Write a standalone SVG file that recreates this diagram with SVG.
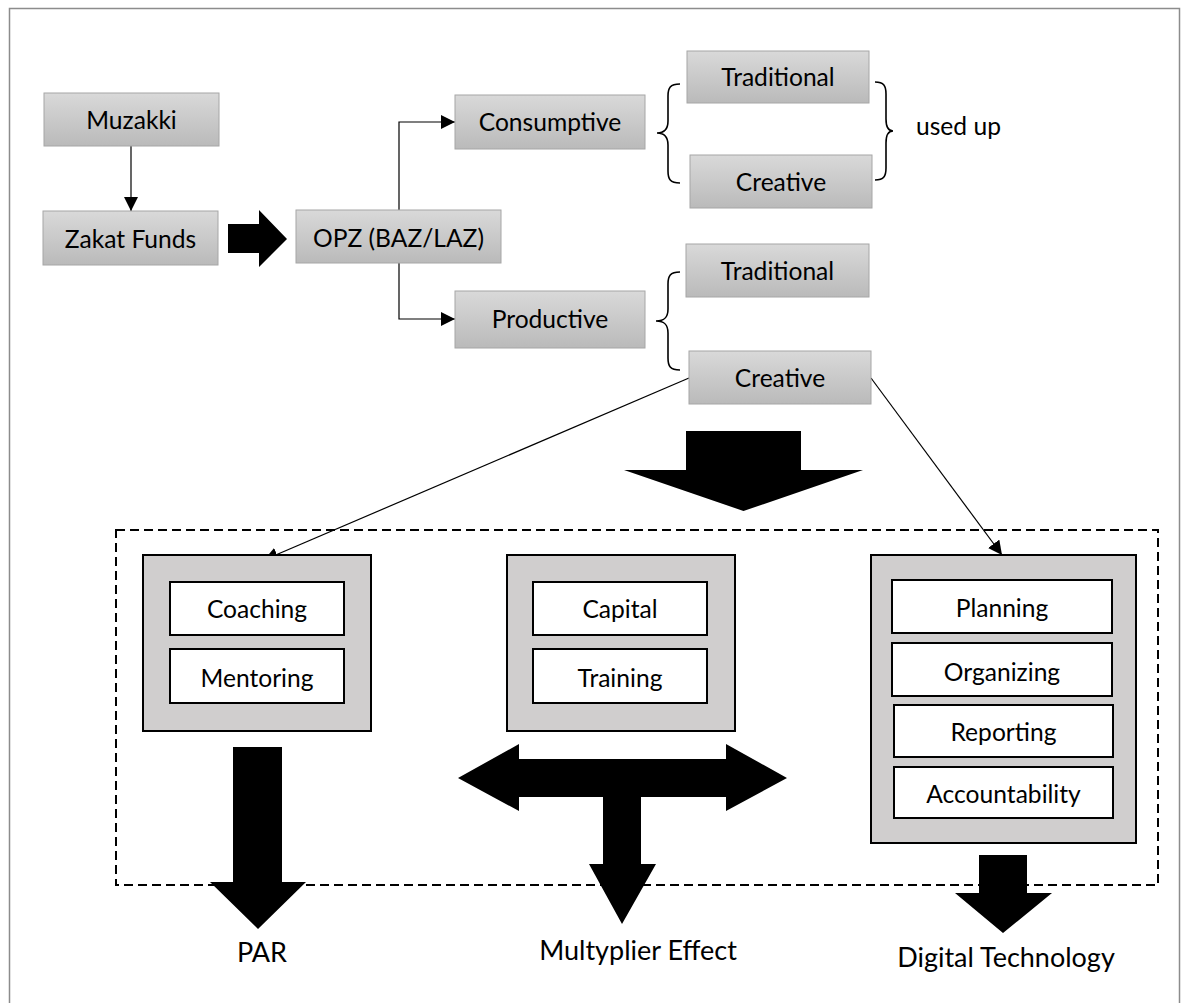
<svg xmlns="http://www.w3.org/2000/svg" width="1187" height="1003" viewBox="0 0 1187 1003">
<defs>
<linearGradient id="g" x1="0" y1="0" x2="0" y2="1">
<stop offset="0" stop-color="#d9d9d9"/>
<stop offset="1" stop-color="#bababa"/>
</linearGradient>
<marker id="ah" markerUnits="userSpaceOnUse" markerWidth="15" markerHeight="14" refX="14" refY="7" orient="auto">
<path d="M0,0 L14,7 L0,14 z" fill="#000"/>
</marker>
</defs>
<style>
.gb{fill:url(#g);stroke:#a6a6a6;stroke-width:1}
.ob{fill:#d0cece;stroke:#000;stroke-width:2}
.ib{fill:#fff;stroke:#000;stroke-width:2}
.t{font-family:Lato,"Liberation Sans",sans-serif;font-size:24.6px;fill:#000;text-anchor:middle}
.tl{font-family:Lato,"Liberation Sans",sans-serif;font-size:27px;fill:#000;text-anchor:middle}
.ln{fill:none;stroke:#000;stroke-width:1.2}
.br{fill:none;stroke:#000;stroke-width:1.6}
.big{fill:#000}
</style>
<rect x="9.5" y="8.5" width="1170" height="1010" fill="#fff" stroke="#8c8c8c" stroke-width="1.5"/>

<g id="connectors">
<path class="ln" d="M131,146 L131,211" marker-end="url(#ah)"/>
<path class="ln" d="M399,210 L399,122 L455,122" marker-end="url(#ah)"/>
<path class="ln" d="M399,263 L399,319 L455,319" marker-end="url(#ah)"/>
<path class="ln" d="M689,378 L264,560" marker-end="url(#ah)"/>
<path class="ln" d="M871,378 L1002,555" marker-end="url(#ah)"/>
<polygon class="big" points="228,224 259,224 259,210 287,239 259,267 259,253 228,253"/>
<polygon class="big" points="686,431 801,431 801,470 863,470 743.5,511 624,470 686,470"/>
<polygon class="big" points="233,747 282,747 282,882 306,882 258,929 210,882 233,882"/>
<polygon class="big" points="458,778 519,744 519,759 726,759 726,744 787,778 726,811 726,797 641,797 641,864 656,864 622,924 589,864 603,864 603,797 519,797 519,811"/>
<polygon class="big" points="979,855 1027,855 1027,893 1052,893 1003,933 955,893 979,893"/>
<path class="br" d="M680,84 C670,84 668,88 668,96 L668,121 C668,129 665,133 657,133 C665,133 668,137 668,145 L668,171 C668,179 670,183 680,183"/>
<path class="br" d="M875,82 C884,82 886,86 886,94 L886,119 C886,127 888,131 893,131 C888,131 886,135 886,143 L886,168 C886,176 884,180 875,180"/>
<path class="br" d="M680,272 C670,272 668,276 668,284 L668,309 C668,317 665,321 656,321 C665,321 668,325 668,333 L668,358 C668,366 670,370 680,370"/>
</g>

<g id="muzakki"><rect class="gb" x="44" y="93" width="175" height="53"/><text class="t" x="131.5" y="129">Muzakki</text></g>
<g id="zakat-funds"><rect class="gb" x="43" y="211" width="175" height="54"/><text class="t" x="130.5" y="248">Zakat Funds</text></g>
<g id="opz"><rect class="gb" x="296" y="210" width="205" height="53"/><text class="t" x="398.5" y="247">OPZ (BAZ/LAZ)</text></g>
<g id="consumptive"><rect class="gb" x="455" y="95" width="190" height="54"/><text class="t" x="550" y="131">Consumptive</text></g>
<g id="productive"><rect class="gb" x="455" y="291" width="190" height="57"/><text class="t" x="550" y="328">Productive</text></g>
<g id="traditional-1"><rect class="gb" x="687" y="51" width="182" height="52"/><text class="t" x="778" y="86">Traditional</text></g>
<g id="creative-1"><rect class="gb" x="690" y="155" width="182" height="53"/><text class="t" x="781" y="191">Creative</text></g>
<g id="used-up"><text class="t" x="916" y="135" style="text-anchor:start">used up</text></g>
<g id="traditional-2"><rect class="gb" x="686" y="244" width="183" height="53"/><text class="t" x="777.5" y="280">Traditional</text></g>
<g id="creative-2"><rect class="gb" x="689" y="351" width="182" height="53"/><text class="t" x="780" y="387">Creative</text></g>

<rect x="116" y="530" width="1042" height="355" fill="none" stroke="#000" stroke-width="2" stroke-dasharray="9 5"/>

<g id="par-box">
<rect class="ob" x="143" y="555" width="228" height="176"/>
<rect class="ib" x="170" y="582" width="174" height="53"/><text class="t" x="257" y="618">Coaching</text>
<rect class="ib" x="170" y="649" width="174" height="54"/><text class="t" x="257" y="687">Mentoring</text>
</g>
<g id="multiplier-box">
<rect class="ob" x="507" y="555" width="228" height="176"/>
<rect class="ib" x="533" y="582" width="174" height="53"/><text class="t" x="620" y="618">Capital</text>
<rect class="ib" x="533" y="649" width="174" height="54"/><text class="t" x="620" y="687">Training</text>
</g>
<g id="digital-box">
<rect class="ob" x="871" y="555" width="265" height="288"/>
<rect class="ib" x="892" y="580" width="220" height="53"/><text class="t" x="1002" y="617">Planning</text>
<rect class="ib" x="892" y="643" width="220" height="53"/><text class="t" x="1002" y="681">Organizing</text>
<rect class="ib" x="894" y="705" width="219" height="52"/><text class="t" x="1003.5" y="741">Reporting</text>
<rect class="ib" x="894" y="767" width="219" height="51"/><text class="t" x="1003.5" y="803">Accountability</text>
</g>
<g id="par"><text class="tl" x="262" y="962">PAR</text></g>
<g id="multiplier"><text class="tl" x="638" y="960">Multyplier Effect</text></g>
<g id="digital"><text class="tl" x="1006" y="967">Digital Technology</text></g>
</svg>
